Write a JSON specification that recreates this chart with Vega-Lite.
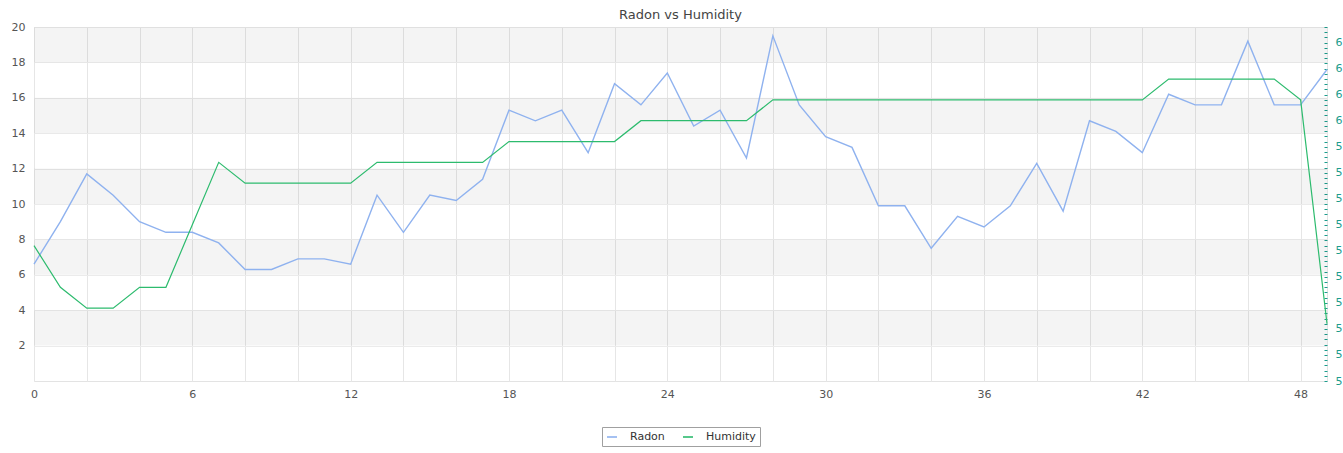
{
  "$schema": "https://vega.github.io/schema/vega-lite/v6.json",
  "width": 1293,
  "height": 354,
  "autosize": {"type": "none"},
  "padding": {"left": 34, "top": 27, "right": 16, "bottom": 72},
  "background": "white",
  "config": {"font": "DejaVu Sans", "view": {"stroke": "#e3e3e3"}, "legend": {"layout": {"bottom": {"anchor": "middle"}}}},
  "title": {"text": "Radon vs Humidity", "fontSize": 13, "fontWeight": "normal", "color": "#444", "offset": -1},
  "datasets": {
    "readings": [
      {"t": 0, "radon": 6.6, "humidity": 57.6},
      {"t": 1, "radon": 9.0, "humidity": 56.8},
      {"t": 2, "radon": 11.7, "humidity": 56.4},
      {"t": 3, "radon": 10.5, "humidity": 56.4},
      {"t": 4, "radon": 9.0, "humidity": 56.8},
      {"t": 5, "radon": 8.4, "humidity": 56.8},
      {"t": 6, "radon": 8.4, "humidity": 58.0},
      {"t": 7, "radon": 7.8, "humidity": 59.2},
      {"t": 8, "radon": 6.3, "humidity": 58.8},
      {"t": 9, "radon": 6.3, "humidity": 58.8},
      {"t": 10, "radon": 6.9, "humidity": 58.8},
      {"t": 11, "radon": 6.9, "humidity": 58.8},
      {"t": 12, "radon": 6.6, "humidity": 58.8},
      {"t": 13, "radon": 10.5, "humidity": 59.2},
      {"t": 14, "radon": 8.4, "humidity": 59.2},
      {"t": 15, "radon": 10.5, "humidity": 59.2},
      {"t": 16, "radon": 10.2, "humidity": 59.2},
      {"t": 17, "radon": 11.4, "humidity": 59.2},
      {"t": 18, "radon": 15.3, "humidity": 59.6},
      {"t": 19, "radon": 14.7, "humidity": 59.6},
      {"t": 20, "radon": 15.3, "humidity": 59.6},
      {"t": 21, "radon": 12.9, "humidity": 59.6},
      {"t": 22, "radon": 16.8, "humidity": 59.6},
      {"t": 23, "radon": 15.6, "humidity": 60.0},
      {"t": 24, "radon": 17.4, "humidity": 60.0},
      {"t": 25, "radon": 14.4, "humidity": 60.0},
      {"t": 26, "radon": 15.3, "humidity": 60.0},
      {"t": 27, "radon": 12.6, "humidity": 60.0},
      {"t": 28, "radon": 19.5, "humidity": 60.4},
      {"t": 29, "radon": 15.6, "humidity": 60.4},
      {"t": 30, "radon": 13.8, "humidity": 60.4},
      {"t": 31, "radon": 13.2, "humidity": 60.4},
      {"t": 32, "radon": 9.9, "humidity": 60.4},
      {"t": 33, "radon": 9.9, "humidity": 60.4},
      {"t": 34, "radon": 7.5, "humidity": 60.4},
      {"t": 35, "radon": 9.3, "humidity": 60.4},
      {"t": 36, "radon": 8.7, "humidity": 60.4},
      {"t": 37, "radon": 9.9, "humidity": 60.4},
      {"t": 38, "radon": 12.3, "humidity": 60.4},
      {"t": 39, "radon": 9.6, "humidity": 60.4},
      {"t": 40, "radon": 14.7, "humidity": 60.4},
      {"t": 41, "radon": 14.1, "humidity": 60.4},
      {"t": 42, "radon": 12.9, "humidity": 60.4},
      {"t": 43, "radon": 16.2, "humidity": 60.8},
      {"t": 44, "radon": 15.6, "humidity": 60.8},
      {"t": 45, "radon": 15.6, "humidity": 60.8},
      {"t": 46, "radon": 19.2, "humidity": 60.8},
      {"t": 47, "radon": 15.6, "humidity": 60.8},
      {"t": 48, "radon": 15.6, "humidity": 60.4},
      {"t": 49, "radon": 17.6, "humidity": 56.1}
    ],
    "bands": [
      {"lo": 2, "hi": 4},
      {"lo": 6, "hi": 8},
      {"lo": 10, "hi": 12},
      {"lo": 14, "hi": 16},
      {"lo": 18, "hi": 20}
    ]
  },
  "layer": [
    {
      "data": {"name": "bands"},
      "mark": {"type": "rect", "color": "#000000", "opacity": 0.045},
      "encoding": {
        "x": {"datum": 0, "type": "quantitative", "scale": {"domain": [0, 49], "nice": false, "zero": false},
          "axis": {"values": [0,1,2,3,4,5,6,7,8,9,10,11,12,13,14,15,16,17,18,19,20,21,22,23,24,25,26,27,28,29,30,31,32,33,34,35,36,37,38,39,40,41,42,43,44,45,46,47,48,49],
            "labelExpr": "datum.value % 6 === 0 ? datum.label : ''", "grid": true, "gridColor": "#e6e6e6", "ticks": false, "domain": false,
            "labelFontSize": 11, "labelColor": "#555", "labelPadding": 7, "labelOverlap": false, "labelFlush": false, "title": null}},
        "x2": {"datum": 49},
        "y": {"field": "lo", "type": "quantitative", "scale": {"domain": [0, 20], "nice": false}, "axis": null},
        "y2": {"field": "hi"}
      }
    },
    {
      "data": {"name": "readings"},
      "mark": {"type": "line", "strokeWidth": 1.4},
      "encoding": {
        "x": {"field": "t", "type": "quantitative"},
        "y": {"field": "radon", "type": "quantitative", "scale": {"domain": [0, 20], "nice": false},
          "axis": {"orient": "left", "values": [2,4,6,8,10,12,14,16,18,20], "grid": true, "gridColor": "#ebebeb", "ticks": false, "domain": false,
            "labelFontSize": 11, "labelColor": "#555", "labelPadding": 9, "title": null}},
        "color": {"datum": "Radon", "type": "nominal",
          "scale": {"domain": ["Radon", "Humidity"], "range": ["#8fb2ef", "#2dbb6e"]},
          "legend": {"title": null, "orient": "bottom", "direction": "horizontal", "strokeColor": "#a0a0a0", "padding": 4, "offset": 28,
            "symbolType": "stroke", "symbolSize": 100, "symbolStrokeWidth": 1.6, "labelFontSize": 11, "labelColor": "#333",
            "labelOffset": 12, "columnPadding": 14}}
      }
    },
    {
      "data": {"name": "readings"},
      "mark": {"type": "line", "strokeWidth": 1.2},
      "encoding": {
        "x": {"field": "t", "type": "quantitative"},
        "y": {"field": "humidity", "type": "quantitative", "scale": {"domain": [55, 61.8], "nice": false, "zero": false},
          "axis": {"orient": "right", "values": [55,55.1,55.2,55.3,55.4,55.5,55.6,55.7,55.8,55.9,56,56.1,56.2,56.3,56.4,56.5,56.6,56.7,56.8,56.9,57,57.1,57.2,57.3,57.4,57.5,57.6,57.7,57.8,57.9,58,58.1,58.2,58.3,58.4,58.5,58.6,58.7,58.8,58.9,59,59.1,59.2,59.3,59.4,59.5,59.6,59.7,59.8,59.9,60,60.1,60.2,60.3,60.4,60.5,60.6,60.7,60.8,60.9,61,61.1,61.2,61.3,61.4,61.5,61.6,61.7,61.8],
            "labelExpr": "abs(datum.value * 2 - round(datum.value * 2)) < 0.000001 ? datum.label : ''",
            "grid": false, "domain": false, "ticks": true, "tickColor": "#1c9c8c", "tickSize": -3,
            "labelFontSize": 11, "labelColor": "#1c9c8c", "labelPadding": 11, "labelOverlap": false, "labelFlush": false, "title": null}},
        "color": {"datum": "Humidity", "type": "nominal"}
      }
    }
  ],
  "resolve": {"scale": {"y": "independent"}}
}
